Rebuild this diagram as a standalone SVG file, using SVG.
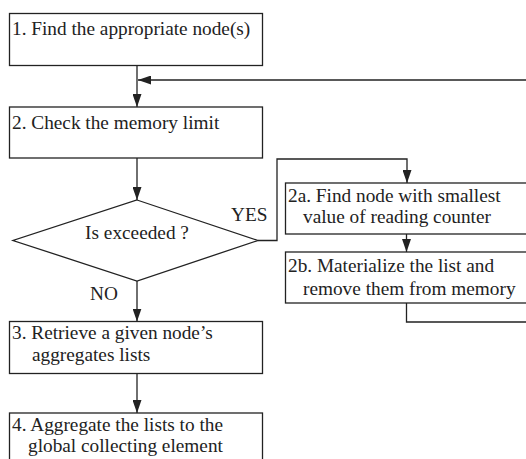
<svg xmlns="http://www.w3.org/2000/svg" width="526" height="459" viewBox="0 0 526 459">
<style>
.box{fill:#fff;stroke:#222;stroke-width:1.3}
.ln{fill:none;stroke:#222;stroke-width:1.3}
text{font-family:"Liberation Serif","Times New Roman",serif;font-size:19.3px;fill:#222}
</style>
<defs>
<marker id="ah" viewBox="0 0 13 9" refX="13" refY="4.5" markerWidth="13" markerHeight="9" markerUnits="userSpaceOnUse" orient="auto">
<path d="M0,0 L13,4.5 L0,9 Z" fill="#222"/>
</marker>
</defs>
<rect width="526" height="459" fill="#fff"/>
<g id="connectors">
<path class="ln" d="M137,65.5 V107" marker-end="url(#ah)"/>
<path class="ln" d="M527,80 H138" marker-end="url(#ah)"/>
<path class="ln" d="M137,158 V200" marker-end="url(#ah)"/>
<path class="ln" d="M258,240.5 H277 V159 H407 V183" marker-end="url(#ah)"/>
<path class="ln" d="M406.5,234 V252" marker-end="url(#ah)"/>
<path class="ln" d="M406.5,303 V322 H527"/>
<path class="ln" d="M137,281 V321.5" marker-end="url(#ah)"/>
<path class="ln" d="M137,373.5 V413" marker-end="url(#ah)"/>
<text x="231" y="221">YES</text>
<text x="90" y="300">NO</text>
</g>
<g id="n1">
<rect class="box" x="9.5" y="13.5" width="253" height="52"/>
<text x="12" y="35">1. Find the appropriate node(s)</text>
</g>
<g id="n2">
<rect class="box" x="9.5" y="107" width="253" height="51"/>
<text x="12" y="128.5">2. Check the memory limit</text>
</g>
<g id="decision">
<polygon class="box" points="137,200 258,240.5 137,281 13,240.5"/>
<text x="137" y="239" text-anchor="middle">Is exceeded ?</text>
</g>
<g id="n2a">
<rect class="box" x="285.5" y="183" width="260" height="51"/>
<text x="288" y="202">2a. Find node with smallest</text>
<text x="303" y="222.5">value of reading counter</text>
</g>
<g id="n2b">
<rect class="box" x="285.5" y="252" width="260" height="51"/>
<text x="288" y="271.5">2b. Materialize the list and</text>
<text x="303" y="294.5">remove them from memory</text>
</g>
<g id="n3">
<rect class="box" x="9.5" y="321.5" width="253" height="52"/>
<text x="12" y="339">3. Retrieve a given node’s</text>
<text x="32" y="361">aggregates lists</text>
</g>
<g id="n4">
<rect class="box" x="9.5" y="413" width="253" height="52"/>
<text x="12" y="431">4. Aggregate the lists to the</text>
<text x="28" y="452">global collecting element</text>
</g>
</svg>
